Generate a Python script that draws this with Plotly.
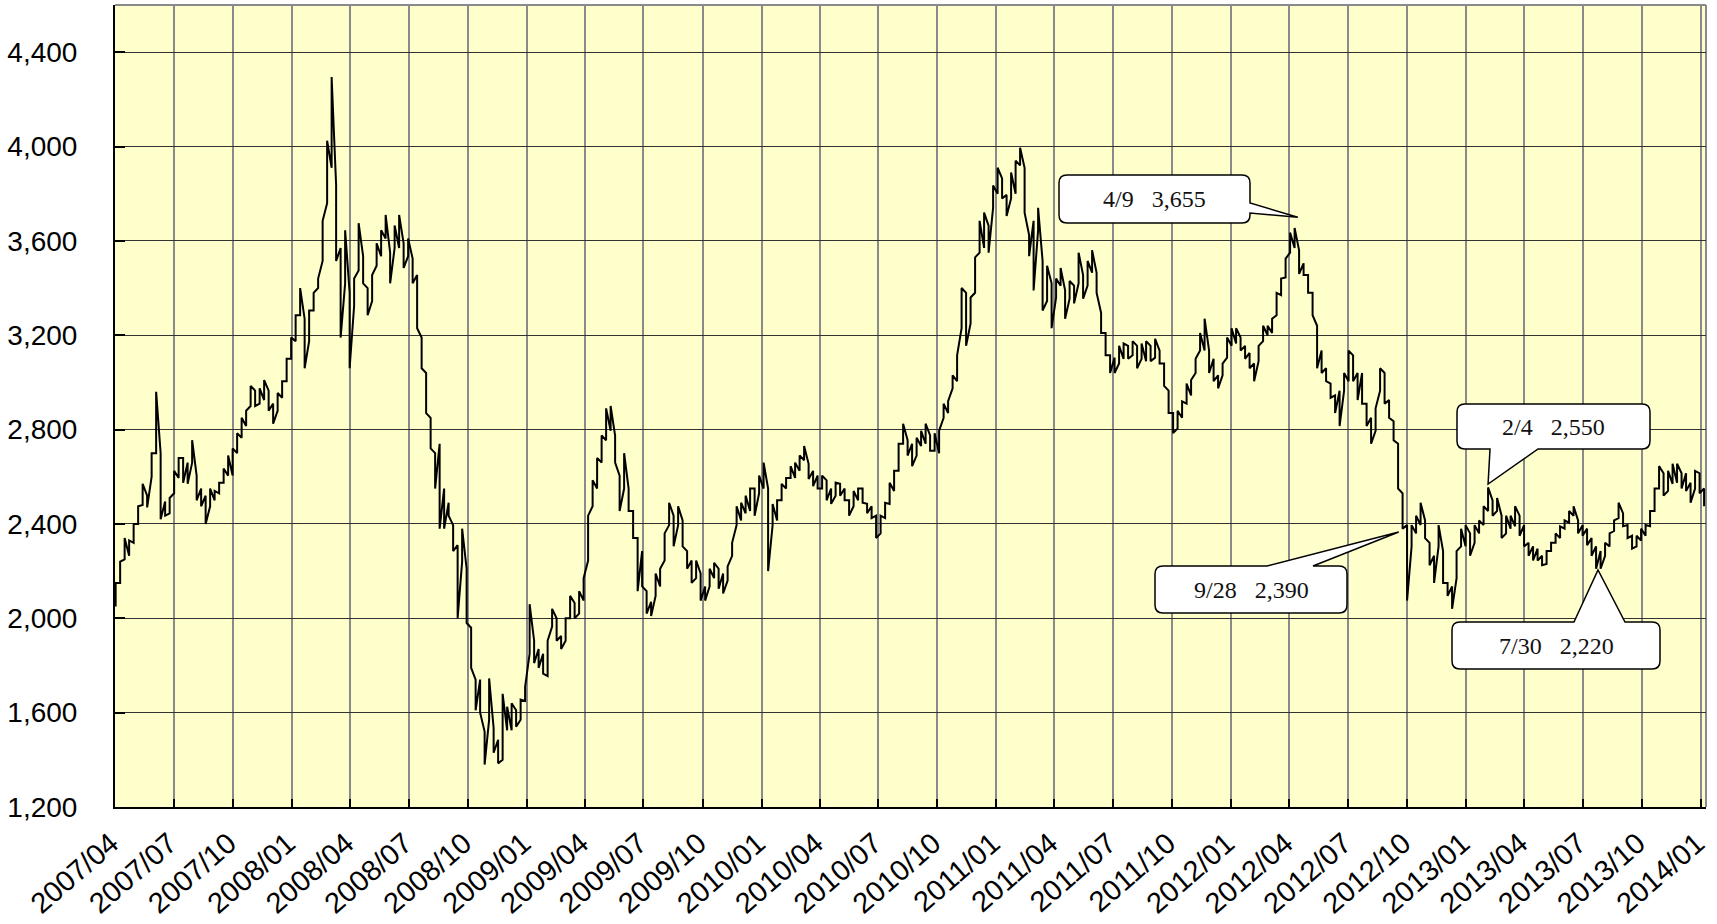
import pandas as pd
import plotly.graph_objects as go

# ---------------- data (weekly low / high) ----------------
week_start = "2007-04-02"

low = [
    2050, 2150, 2250, 2265, 2320, 2400, 2480, 2470, 2600, 2700, 2420, 2435, 2445, 2530,
    2595, 2575, 2570, 2660, 2500, 2475, 2400, 2475, 2500, 2530, 2575, 2605, 2605,
    2700, 2765, 2815, 2900, 2900, 2910, 2925, 2880, 2825, 2880, 2935, 3005, 3100,
    3175, 3285, 3060, 3175, 3305, 3400, 3515, 3760, 3910, 3515, 3190, 3420, 3060,
    3325, 3475, 3420, 3285, 3345, 3495, 3535, 3610, 3420, 3570, 3570, 3485, 3535,
    3420, 3230, 3060, 2870, 2720, 2550, 2380, 2380, 2435, 2285, 2000, 2240, 1980,
    1790, 1610, 1600, 1380, 1570, 1430, 1385, 1400, 1525, 1525, 1540, 1570, 1650,
    1850, 1810, 1790, 1765, 1755, 1965, 1905, 1870, 1905, 2000, 2000, 2020, 2075,
    2245, 2475, 2550, 2660, 2755, 2795, 2660, 2455, 2550, 2455, 2340, 2115, 2135,
    2020, 2010, 2095, 2135, 2245, 2395, 2305, 2395, 2305, 2210, 2150, 2170, 2075,
    2075, 2135, 2170, 2125, 2105, 2160, 2265, 2395, 2415, 2445, 2455, 2435, 2530,
    2550, 2200, 2395, 2415, 2500, 2550, 2595, 2595, 2625, 2670, 2590, 2560, 2550,
    2550, 2500, 2485, 2520, 2520, 2500, 2435, 2475, 2500, 2490, 2445, 2425, 2340,
    2360, 2425, 2485, 2540, 2625, 2740, 2690, 2645, 2690, 2730, 2740, 2710, 2710,
    2700, 2850, 2870, 2975, 3005, 3230, 3155, 3250, 3380, 3550, 3570, 3550, 3740,
    3800, 3780, 3705, 3780, 3800, 3920, 3720, 3535, 3390, 3645, 3305, 3345, 3230,
    3360, 3410, 3270, 3355, 3335, 3420, 3355, 3410, 3465, 3380, 3210, 3115, 3040,
    3040, 3080, 3100, 3100, 3115, 3060, 3100, 3090, 3090, 3105, 3080, 2985, 2870,
    2785, 2805, 2850, 2910, 2945, 3040, 3135, 3135, 3040, 3005, 2975, 3030, 3105,
    3155, 3165, 3135, 3100, 3060, 3005, 3090, 3175, 3200, 3210, 3285, 3370, 3445, 3550,
    3570, 3460, 3455, 3380, 3285, 3060, 3040, 3005, 2935, 2870, 2815, 2965, 3005,
    3005, 2925, 2910, 2815, 2740, 2795, 2965, 2910, 2850, 2755, 2550, 2380, 2075,
    2305, 2360, 2395, 2340, 2225, 2150, 2305, 2150, 2095, 2040, 2170, 2305, 2305,
    2265, 2320, 2360, 2395, 2455, 2435, 2455, 2340, 2360, 2380, 2390, 2350, 2305,
    2265, 2245, 2245, 2225, 2230, 2285, 2320, 2340, 2380, 2405, 2435, 2360, 2350,
    2310, 2265, 2210, 2210, 2265, 2305, 2370, 2425, 2390, 2340, 2295, 2305, 2330,
    2350, 2390, 2455, 2550, 2520, 2540, 2570, 2575, 2550, 2540, 2490, 2550, 2530, 2475,
]

high = [
    2150, 2240, 2340, 2330, 2400, 2475, 2570, 2520, 2700, 2960, 2700, 2495, 2510, 2625,
    2680, 2680, 2660, 2755, 2605, 2550, 2520, 2550, 2540, 2575, 2635, 2690, 2720,
    2785, 2850, 2880, 2985, 2965, 2975, 3010, 2965, 2910, 2955, 3005, 3100, 3190,
    3285, 3400, 3270, 3305, 3380, 3440, 3685, 4025, 4295, 3835, 3570, 3645, 3380,
    3440, 3675, 3535, 3400, 3455, 3590, 3645, 3710, 3550, 3665, 3710, 3590, 3610,
    3525, 3455, 3190, 3040, 2850, 2700, 2740, 2550, 2490, 2395, 2310, 2380, 2210,
    1960, 1740, 1740, 1520, 1745, 1535, 1485, 1680, 1625, 1640, 1610, 1655, 1710,
    2060, 1905, 1870, 1850, 1905, 2040, 2000, 1925, 2000, 2095, 2065, 2115, 2170,
    2435, 2585, 2680, 2775, 2890, 2900, 2775, 2605, 2700, 2550, 2455, 2340, 2285,
    2115, 2070, 2190, 2210, 2360, 2490, 2435, 2475, 2415, 2285, 2245, 2245, 2190,
    2135, 2210, 2235, 2210, 2190, 2220, 2320, 2475, 2490, 2520, 2550, 2550, 2605,
    2660, 2550, 2485, 2500, 2570, 2595, 2645, 2660, 2690, 2730, 2655, 2625, 2605,
    2605, 2585, 2550, 2575, 2570, 2550, 2500, 2540, 2550, 2550, 2485, 2475, 2435,
    2435, 2490, 2575, 2625, 2740, 2825, 2755, 2740, 2765, 2795, 2825, 2775, 2785,
    2795, 2910, 2920, 3030, 3115, 3400, 3380, 3360, 3530, 3685, 3720, 3665, 3835,
    3910, 3865, 3795, 3890, 3940, 3995, 3910, 3625, 3685, 3740, 3515, 3495, 3420,
    3440, 3485, 3390, 3430, 3410, 3550, 3455, 3515, 3560, 3465, 3295, 3210, 3115,
    3105, 3155, 3165, 3155, 3175, 3155, 3165, 3175, 3155, 3185, 3135, 3080, 2965,
    2870, 2880, 2920, 2995, 3010, 3100, 3210, 3270, 3135, 3100, 3030, 3080, 3190,
    3230, 3230, 3190, 3155, 3125, 3080, 3155, 3240, 3240, 3270, 3380, 3440, 3525, 3635,
    3655, 3560, 3505, 3455, 3380, 3240, 3135, 3060, 2995, 2945, 2965, 3040, 3135,
    3115, 3040, 3040, 2910, 2850, 2890, 3060, 3040, 2925, 2835, 2740, 2530, 2395,
    2395, 2435, 2490, 2415, 2320, 2265, 2395, 2285, 2150, 2135, 2285, 2380, 2395,
    2360, 2395, 2415, 2475, 2555, 2500, 2510, 2435, 2435, 2435, 2475, 2435, 2395,
    2320, 2305, 2295, 2265, 2285, 2320, 2360, 2390, 2415, 2455, 2475, 2415, 2395,
    2380, 2340, 2305, 2285, 2320, 2360, 2415, 2490, 2445, 2395, 2350, 2350, 2380,
    2395, 2455, 2550, 2645, 2615, 2625, 2655, 2655, 2615, 2615, 2575, 2625, 2615, 2550,
]

y_ticks = [1200, 1600, 2000, 2400, 2800, 3200, 3600, 4000, 4400]

callout_texts = ["4/9\u00a0\u00a0\u00a03,655", "9/28\u00a0\u00a0\u00a02,390",
                 "2/4\u00a0\u00a0\u00a02,550", "7/30\u00a0\u00a0\u00a02,220"]
callout_tips = [("2012-04-14", 3700), ("2012-09-18", 2366),
                ("2013-02-04", 2569), ("2013-07-25", 2205)]

# ---------------- layout constants ----------------
W, H = 1717, 924
ML, MR, MT, MB = 115, 11, 5, 117
PW, PH = W - ML - MR, H - MT - MB
X_RANGE = ["2007-04-01", "2014-01-09"]
Y_RANGE = [1200, 4600]

dates = pd.date_range(week_start, periods=len(low), freq="7D")

# jagged price path: each week's range is traversed in the direction of the move
xs, ys = [], []
prev_mid = None
for d, lo, hi in zip(dates, low, high):
    mid = (lo + hi) / 2
    if prev_mid is None or mid >= prev_mid:
        pair = (lo, hi)
    else:
        pair = (hi, lo)
    xs += [d, d]
    ys += list(pair)
    prev_mid = mid

fig = go.Figure()
fig.add_trace(go.Scatter(x=xs, y=ys, mode="lines",
                         line=dict(color="black", width=2),
                         hoverinfo="skip", showlegend=False))

# ---------------- callouts ----------------
x0d = pd.Timestamp(X_RANGE[0])
span = (pd.Timestamp(X_RANGE[1]) - x0d).days


def data_to_px(date, val):
    px = ML + (pd.Timestamp(date) - x0d).days / span * PW
    py = MT + (Y_RANGE[1] - val) / (Y_RANGE[1] - Y_RANGE[0]) * PH
    return px, py


def P(px, py):
    return f"{(px - ML) / PW:.5f},{(MT + PH - py) / PH:.5f}"


def callout(box, side, base, tip, r=8):
    x0, y0, x1, y1 = box
    tx, ty = tip
    p = [f"M {P(x0 + r, y0)}"]
    if side == "top":
        p += [f"L {P(base[0], y0)}", f"L {P(tx, ty)}", f"L {P(base[1], y0)}"]
    p += [f"L {P(x1 - r, y0)}", f"Q {P(x1, y0)} {P(x1, y0 + r)}"]
    if side == "right":
        p += [f"L {P(x1, base[0])}", f"L {P(tx, ty)}", f"L {P(x1, base[1])}"]
    p += [f"L {P(x1, y1 - r)}", f"Q {P(x1, y1)} {P(x1 - r, y1)}"]
    if side == "bottom":
        p += [f"L {P(base[1], y1)}", f"L {P(tx, ty)}", f"L {P(base[0], y1)}"]
    p += [f"L {P(x0 + r, y1)}", f"Q {P(x0, y1)} {P(x0, y1 - r)}",
          f"L {P(x0, y0 + r)}", f"Q {P(x0, y0)} {P(x0 + r, y0)}", "Z"]
    return " ".join(p)


boxes = [((1059, 175, 1250, 223), "right", (203, 213)),
         ((1155, 566, 1347, 613), "top", (1267, 1313)),
         ((1457, 404, 1650, 449), "bottom", (1490, 1538)),
         ((1452, 622, 1660, 669), "top", (1574, 1625))]

shapes = []
annotations = []
for (box, side, base), txt, tip in zip(boxes, callout_texts, callout_tips):
    tpx = data_to_px(*tip)
    shapes.append(dict(type="path", xref="paper", yref="paper",
                       path=callout(box, side, base, tpx),
                       fillcolor="white", line=dict(color="black", width=1.5),
                       layer="above"))
    cx = (box[0] + box[2]) / 2
    cy = (box[1] + box[3]) / 2
    annotations.append(dict(xref="paper", yref="paper",
                            x=(cx - ML) / PW, y=(MT + PH - cy) / PH,
                            text=txt, showarrow=False,
                            xanchor="center", yanchor="middle",
                            font=dict(family="Liberation Serif", size=24, color="#111")))

# top and right frame lines (gray)
shapes.append(dict(type="line", xref="paper", yref="paper", x0=0, x1=1, y0=1, y1=1,
                   line=dict(color="#8a8a8a", width=2), layer="below"))
shapes.append(dict(type="line", xref="paper", yref="paper", x0=1, x1=1, y0=0, y1=1,
                   line=dict(color="#8a8a8a", width=2), layer="below"))

fig.update_layout(
    width=W, height=H,
    margin=dict(l=ML, r=MR, t=MT, b=MB, pad=0, autoexpand=False),
    paper_bgcolor="white",
    plot_bgcolor="#FFFFCC",
    shapes=shapes,
    annotations=annotations,
    showlegend=False,
    font=dict(family="Liberation Sans", color="black"),
)

fig.update_xaxes(
    type="date", range=X_RANGE, automargin=False,
    tick0="2007-04-01", dtick="M3", tickformat="%Y/%m",
    tickangle=-41, tickfont=dict(size=29, family="Liberation Sans", color="black"),
    ticks="inside", ticklen=8, tickwidth=1.5, tickcolor="black",
    ticklabelstandoff=6, ticklabelshift=-4,
    showgrid=True, gridcolor="#8a8a8a", gridwidth=2,
    showline=True, linecolor="black", linewidth=2,
    zeroline=False,
)
fig.update_yaxes(
    range=Y_RANGE, tickvals=y_ticks, tickformat=",d", automargin=False,
    tickfont=dict(size=28, family="Liberation Sans", color="black"),
    ticks="inside", ticklen=10, tickwidth=1.5, tickcolor="black",
    ticklabelstandoff=30,
    showgrid=True, gridcolor="#333333", gridwidth=1,
    showline=True, linecolor="black", linewidth=2,
    zeroline=False,
)

fig.write_html("out.html",
               config={"displayModeBar": False},
               post_script="document.body.style.margin='0';document.body.style.overflow='hidden';")
